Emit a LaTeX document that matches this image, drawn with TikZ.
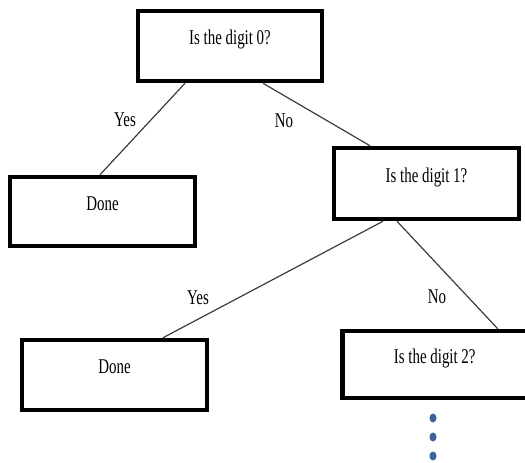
\documentclass[tikz,border=0pt]{standalone}
\usepackage{graphicx}
\usepackage{fontspec}
\setmainfont{Liberation Serif}
\usetikzlibrary{calc}
\definecolor{dotblue}{RGB}{58,98,150}
\definecolor{linegray}{RGB}{60,60,60}
\newcommand{\tx}[1]{\scalebox{0.71}[1]{#1}}
\tikzset{
  boxst/.style={draw=black, line width=4.5pt, rectangle, inner sep=0pt,
    text height=10pt, text depth=13pt, font=\fontsize{21}{24}\selectfont},
  lblst/.style={inner sep=0pt, font=\fontsize{21}{24}\selectfont},
  conn/.style={draw=linegray, line width=1.2pt},
  dotst/.style={fill=dotblue}
}
\begin{document}
\begin{tikzpicture}[x=1pt,y=-1pt]
\useasboundingbox (0,0) rectangle (525,463);
\node[boxst, minimum width=184pt, minimum height=70pt] (q0) at (230,46) {\tx{Is the digit 0?}};
\node[boxst, minimum width=185pt, minimum height=69pt] (d1) at (102.5,211.5) {\tx{Done}};
\node[boxst, minimum width=185pt, minimum height=71pt] (q1) at (426.5,183.5) {\tx{Is the digit 1?}};
\node[boxst, minimum width=185pt, minimum height=70pt] (d2) at (114.5,375) {\tx{Done}};
\node[boxst, minimum width=185pt, minimum height=67pt] (q2) at (434.75,364.5) {\tx{Is the digit 2?}};

\draw[conn] ([xshift=-45pt]q0.south) -- ([xshift=-2.5pt]d1.north);
\draw[conn] ([xshift=33pt]q0.south) -- ([xshift=-56.5pt]q1.north);
\draw[conn] ([xshift=-43.5pt]q1.south) -- ([xshift=48.5pt]d2.north);
\draw[conn] ([xshift=-29.5pt]q1.south) -- ([xshift=63pt]q2.north);

\node[lblst] (y1) at (125,120) {\tx{Yes}};
\node[lblst] (n1) at (284,121) {\tx{No}};
\node[lblst] (y2) at (198,298) {\tx{Yes}};
\node[lblst] (n2) at (437,297) {\tx{No}};

\fill[dotst] (433,418) ellipse [x radius=3.5pt, y radius=4.5pt];
\fill[dotst] (433,437) ellipse [x radius=3.5pt, y radius=4.5pt];
\fill[dotst] (433,456) ellipse [x radius=3.5pt, y radius=4.5pt];
\end{tikzpicture}
\end{document}
